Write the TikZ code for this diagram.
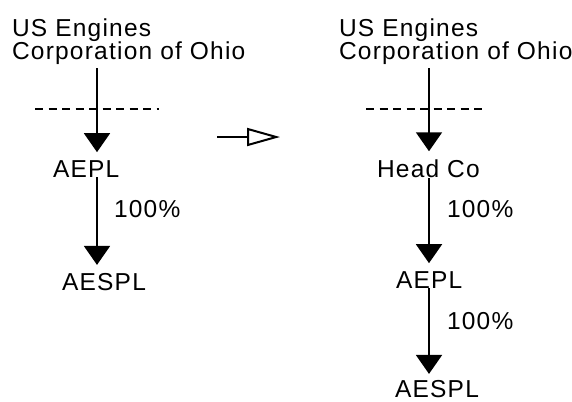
\documentclass[tikz,border=0pt]{standalone}
\usepackage{fontspec}
\setmainfont{Liberation Sans}[LetterSpace=5]
\usetikzlibrary{arrows.meta}

\begin{document}
\begin{tikzpicture}[x=1bp,y=-1bp,
    ent/.style={inner sep=0pt, outer sep=0pt, anchor=base west, text depth=0pt,
      font=\fontsize{24.5bp}{23bp}\selectfont},
    own/.style={line width=2bp, -{Triangle[length=19bp,width=26bp]}, shorten >=8bp},
    cutline/.style={line width=2bp, dash pattern=on 8bp off 5.5bp}]
  \useasboundingbox (0,0) rectangle (572,401);
  \coordinate (axisL) at (97,0);
  \coordinate (axisR) at (429,0);
  % before
  \node [ent] (usL)    at (12,36)  {US Engines};
  \node [ent] (corpL)  at (12,59)  {Corporation of Ohio};
  \node [ent] (aeplL)  at (53,177) {AEPL};
  \node [ent] (pctL)   at (114,217) {100\%};
  \node [ent] (aesplL) at (62,290) {AESPL};
  \draw [cutline] (35,109) -- (159,109);
  \draw [own, shorten <=9bp] (corpL.south -| axisL) -- (aeplL.north -| axisL);
  \draw [own]               (aeplL.south -| axisL) -- (aesplL.north -| axisL);
  % change
  \coordinate (chgA) at (217,137);
  \coordinate (chgB) at (280,137);
  \draw [line width=2bp, -{Triangle[open,length=33bp,width=18bp]}] (chgA) -- (chgB);
  % after
  \node [ent] (usR)    at (339,36)  {US Engines};
  \node [ent] (corpR)  at (339,59)  {Corporation of Ohio};
  \node [ent] (headR)  at (377,177) {Head Co};
  \node [ent] (pctR)   at (447,217) {100\%};
  \node [ent] (aeplR)  at (396,288) {AEPL};
  \node [ent] (pctRR)  at (447,329) {100\%};
  \node [ent] (aesplR) at (395,397) {AESPL};
  \draw [cutline] (366,109) -- (487,109);
  \draw [own, shorten <=9bp] (corpR.south -| axisR) -- (headR.north -| axisR);
  \draw [own, shorten <=1bp] (headR.south -| axisR) -- (aeplR.north -| axisR);
  \draw [own, shorten >=6bp] (aeplR.south -| axisR) -- (aesplR.north -| axisR);
\end{tikzpicture}
\end{document}
